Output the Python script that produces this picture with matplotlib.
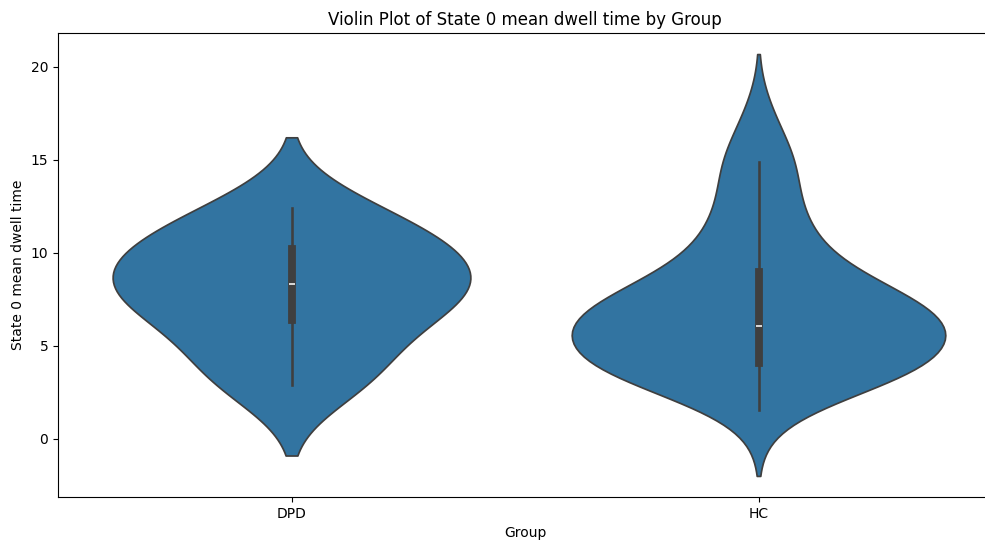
import matplotlib
matplotlib.use("Agg")
import matplotlib.pyplot as plt
import pandas as pd
import seaborn as sns

# per-subject mean dwell time in state 0
dpd_dwell = [2.91, 3.96, 6.22, 6.83, 8.00, 8.68, 8.96, 10.63, 10.79, 12.40]
hc_dwell = [1.53, 3.58, 3.58, 3.59, 3.60, 3.61, 3.62, 3.63, 3.64, 3.89,
            4.10, 4.10, 4.16, 5.95, 5.95, 5.95, 5.96, 5.96, 5.96, 5.96,
            6.13, 6.76, 6.79, 6.87, 7.00, 7.16, 7.61, 7.63, 7.80, 8.86,
            9.30, 9.41, 9.60, 11.67, 11.70, 11.74, 14.13, 14.87, 14.87, 17.16]
groups = ["DPD", "HC"]
metric = "State 0 mean dwell time"

df = pd.DataFrame({
    "Group": ["DPD"] * len(dpd_dwell) + ["HC"] * len(hc_dwell),
    metric: dpd_dwell + hc_dwell,
})

fig = plt.figure(figsize=(9.85, 5.42), dpi=100)
ax = fig.add_axes([58 / 985, 45 / 542, 934 / 985, 464 / 542])

sns.violinplot(data=df, x="Group", y=metric, order=groups, ax=ax)

ax.set_title(f"Violin Plot of {metric} by Group", fontsize=12)
ax.set_xlabel("Group")
ax.set_ylabel(metric)

fig.savefig("out.png", dpi=100)
